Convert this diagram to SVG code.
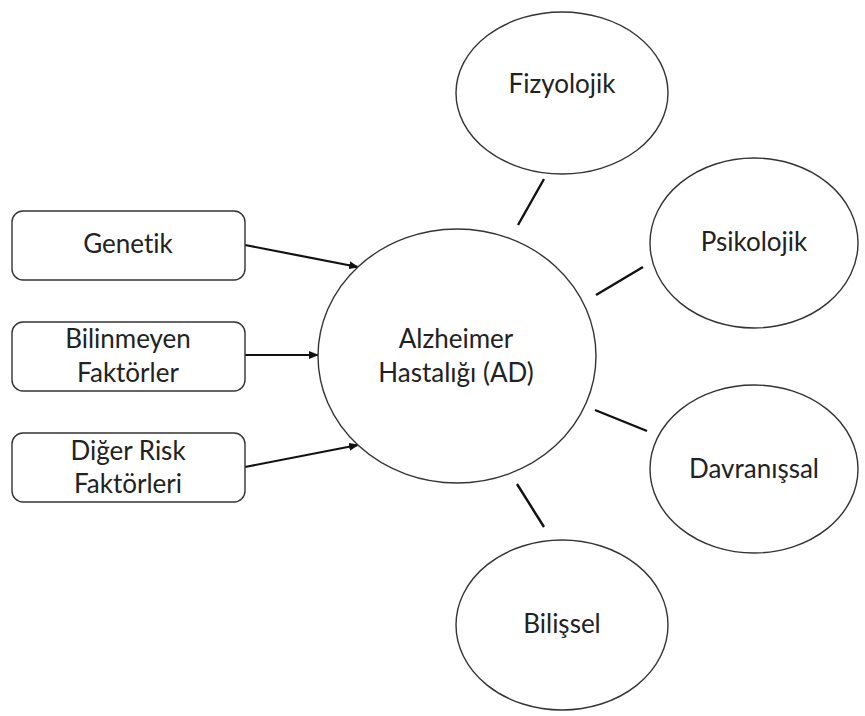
<svg xmlns="http://www.w3.org/2000/svg" width="865" height="716" viewBox="0 0 865 716">
<style>
.shape{fill:#fff;stroke:#333;stroke-width:1.4}
.t{font-family:Lato,"Open Sans",sans-serif;font-size:26px;fill:#222;text-anchor:middle;font-variant-ligatures:none}
.arr{stroke:#111;stroke-width:2.2;fill:none;marker-end:url(#ah)}
.sp{stroke:#111;stroke-width:2.4;fill:none}
</style>
<defs>
<marker id="ah" markerWidth="10" markerHeight="8" refX="9" refY="4" orient="auto" markerUnits="userSpaceOnUse">
<path d="M0,0 L10,4 L0,8 Z" fill="#111"/>
</marker>
</defs>
<rect width="865" height="716" fill="#fff"/>
<g id="connectors">
<line class="arr" x1="245" y1="245" x2="358" y2="267"/>
<line class="arr" x1="245" y1="355" x2="318" y2="355"/>
<line class="arr" x1="245" y1="467" x2="358" y2="445"/>
<line class="sp" x1="544" y1="179" x2="518" y2="225"/>
<line class="sp" x1="596" y1="295" x2="643" y2="267"/>
<line class="sp" x1="595" y1="410" x2="647" y2="431"/>
<line class="sp" x1="517" y1="484" x2="544" y2="527"/>
</g>
<g id="genetik">
<rect class="shape" x="12" y="211" width="233" height="69" rx="11"/>
<text class="t" x="128" y="253">Genetik</text>
</g>
<g id="bilinmeyen">
<rect class="shape" x="12" y="322" width="233" height="69" rx="11"/>
<text class="t" x="128" y="348">Bilinmeyen</text>
<text class="t" x="128" y="382">Faktörler</text>
</g>
<g id="diger">
<rect class="shape" x="12" y="433" width="233" height="69" rx="11"/>
<text class="t" x="128" y="460">Diğer Risk</text>
<text class="t" x="128" y="493">Faktörleri</text>
</g>
<g id="alzheimer">
<ellipse class="shape" cx="457" cy="356" rx="139" ry="127"/>
<text class="t" x="456" y="348">Alzheimer</text>
<text class="t" x="456" y="382">Hastalığı (AD)</text>
</g>
<g id="fizyolojik">
<ellipse class="shape" cx="562" cy="93" rx="106" ry="81"/>
<text class="t" x="562" y="93">Fizyolojik</text>
</g>
<g id="psikolojik">
<ellipse class="shape" cx="754" cy="243" rx="104" ry="85"/>
<text class="t" x="754" y="251">Psikolojik</text>
</g>
<g id="davranissal">
<ellipse class="shape" cx="754" cy="469" rx="104" ry="84"/>
<text class="t" x="754" y="478">Davranışsal</text>
</g>
<g id="bilissel">
<ellipse class="shape" cx="562" cy="625" rx="106" ry="85"/>
<text class="t" x="562" y="633">Bilişsel</text>
</g>
</svg>
